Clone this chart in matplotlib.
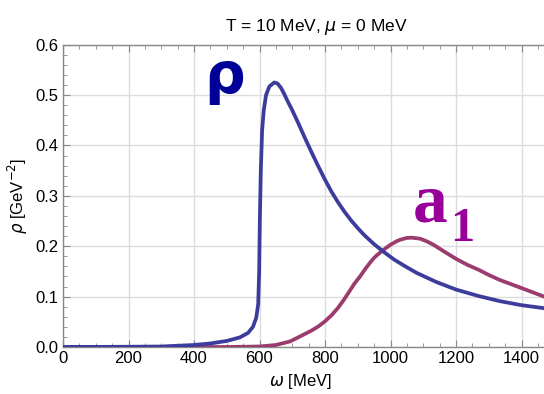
import matplotlib
matplotlib.use('Agg')
import matplotlib.pyplot as plt
import numpy as np

# spectral functions (omega in MeV, rho in GeV^-2)
w_rho = [0, 200, 300, 400, 450, 500, 540, 565, 580, 590, 596, 599, 601, 604, 608, 613,
         620, 630, 645, 655, 665, 675, 685, 700, 720, 740, 760, 780, 800, 820, 840, 860,
         880, 900, 920, 950, 983, 1010, 1040, 1080, 1140, 1200, 1270, 1334, 1400, 1469, 1500]
rho = [0, 0.0005, 0.001, 0.004, 0.007, 0.012, 0.019, 0.028, 0.040, 0.058, 0.085, 0.15,
       0.25, 0.35, 0.43, 0.47, 0.50, 0.517, 0.525, 0.523, 0.515, 0.503, 0.489, 0.470,
       0.442, 0.413, 0.385, 0.358, 0.332, 0.308, 0.287, 0.268, 0.251, 0.236, 0.222,
       0.204, 0.187, 0.174, 0.162, 0.147, 0.129, 0.114, 0.101, 0.091, 0.083, 0.077, 0.074]

w_a1 = [0, 500, 600, 650, 693, 724, 760, 780, 800, 820, 840, 858, 876, 890, 907, 922,
        937, 950, 960, 983, 1000, 1019, 1030, 1050, 1065, 1090, 1110, 1131, 1165, 1200,
        1235, 1270, 1300, 1334, 1400, 1469, 1500]
a1 = [0, 0.0, 0.001, 0.004, 0.011, 0.021, 0.033, 0.041, 0.051, 0.063, 0.078, 0.094,
      0.112, 0.126, 0.140, 0.154, 0.167, 0.177, 0.183, 0.195, 0.203, 0.210, 0.213,
      0.2165, 0.217, 0.215, 0.210, 0.203, 0.189, 0.175, 0.163, 0.153, 0.143, 0.133,
      0.117, 0.100, 0.094]

plt.rcParams['font.family'] = ['Liberation Sans', 'DejaVu Sans']

fig = plt.figure(figsize=(5.44, 3.94), dpi=100)
ax = fig.add_axes([63/544, 47/394, 1500*0.3275/544, 302.3/394])

ax.plot(w_a1, a1, color='#9b3b6e', lw=2.7, solid_capstyle='round', solid_joinstyle='round', zorder=3)
ax.plot(w_rho, rho, color='#3c3c9c', lw=2.7, solid_capstyle='round', solid_joinstyle='round', zorder=4)

ax.set_xlim(0, 1500)
ax.set_ylim(0, 0.6)
ax.set_xticks(np.arange(0, 1600, 200))
ax.set_xticks(np.arange(0, 1550, 50), minor=True)
ax.set_yticks(np.arange(0, 0.61, 0.1))
ax.set_yticks(np.arange(0, 0.61, 0.02), minor=True)
ax.set_yticklabels(['0.0', '0.1', '0.2', '0.3', '0.4', '0.5', '0.6'])
ax.grid(True, which='major', color='#dcdcdc', lw=1.0)
ax.set_axisbelow(True)

for s in ax.spines.values():
    s.set_color('#888888')
    s.set_linewidth(1.0)
ax.tick_params(which='both', direction='in', top=True, right=True, color='#888888',
               labelsize=12, pad=3)
ax.tick_params(which='major', length=5)
ax.tick_params(which='minor', length=3)

ax.set_title('T = 10 MeV, $\\mu$ = 0 MeV', fontsize=12.5, pad=10, x=(316-63)/(1500*0.3275))
ax.set_xlabel('$\\omega$ [MeV]', fontsize=12, labelpad=4, x=(300-63)/(1500*0.3275))
ax.set_ylabel('$\\rho$ [GeV$^{-2}$]', fontsize=12, labelpad=4)

ax.text(430, 0.505, '\u03c1', color='#000099', fontsize=41, fontweight='bold',
        family='DejaVu Sans', ha='left', va='baseline')
ax.text(1068, 0.2496, 'a', color='#990099', fontsize=50, fontweight='bold',
        family='Liberation Serif', ha='left', va='baseline')
ax.text(1182, 0.21, '1', color='#990099', fontsize=35, fontweight='bold',
        family='Liberation Serif', ha='left', va='baseline')

fig.savefig('out.png', dpi=100)
